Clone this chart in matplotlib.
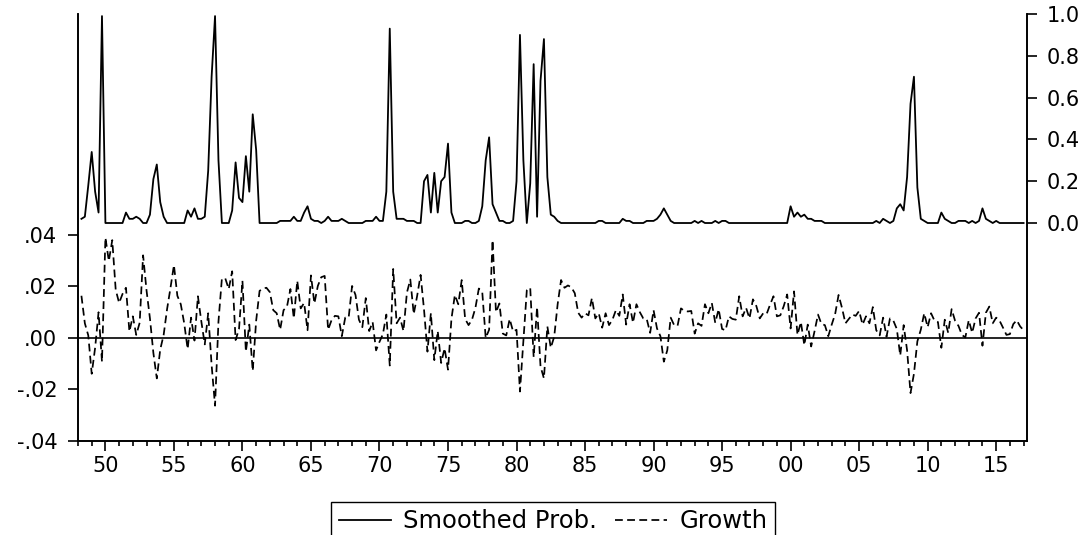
import matplotlib
matplotlib.use("Agg")
import matplotlib.pyplot as plt
import numpy as np
import pandas as pd

# quarterly sample 1948Q2 - 2017Q1
quarters = pd.period_range("1948Q2", "2017Q1", freq="Q")

# quarterly growth (left scale)
growth = [
    0.0164, 0.0057, 0.0010,                 # 1948 Q2-Q4
    -0.0139, -0.0038, 0.0100, -0.0092,      # 1949
    0.0390, 0.0299, 0.0380, 0.0188,         # 1950
    0.0136, 0.0171, 0.0195, 0.0025,         # 1951
    0.0084, 0.0012, 0.0059, 0.0321,         # 1952
    0.0185, 0.0076, -0.0058, -0.0157,       # 1953
    -0.0045, 0.0012, 0.0112, 0.0195,        # 1954
    0.0283, 0.0164, 0.0131, 0.0057,         # 1955
    -0.0043, 0.0079, -0.0010, 0.0162,       # 1956
    0.0064, -0.0025, 0.0096, -0.0105,       # 1957
    -0.0263, 0.0064, 0.0231, 0.0231,        # 1958
    0.0190, 0.0259, -0.0008, 0.0035,        # 1959
    0.0222, -0.0053, 0.0052, -0.0128,       # 1960
    0.0067, 0.0183, 0.0192, 0.0195,         # 1961
    0.0178, 0.0108, 0.0096, 0.0032,         # 1962
    0.0108, 0.0122, 0.0190, 0.0076,         # 1963
    0.0222, 0.0115, 0.0136, 0.0030,         # 1964
    0.0243, 0.0134, 0.0202, 0.0236,         # 1965
    0.0241, 0.0032, 0.0069, 0.0086,         # 1966
    0.0084, 0.0007, 0.0079, 0.0079,         # 1967
    0.0202, 0.0167, 0.0071, 0.0042,         # 1968
    0.0155, 0.0027, 0.0062, -0.0048,        # 1969
    -0.0015, 0.0015, 0.0091, -0.0107,       # 1970
    0.0268, 0.0057, 0.0079, 0.0027,         # 1971
    0.0176, 0.0227, 0.0093, 0.0164,         # 1972
    0.0245, 0.0110, -0.0053, 0.0096,        # 1973
    -0.0086, 0.0027, -0.0097, -0.0040,      # 1974
    -0.0123, 0.0074, 0.0167, 0.0131,        # 1975
    0.0225, 0.0074, 0.0050, 0.0071,         # 1976
    0.0117, 0.0192, 0.0178, 0.0000,         # 1977
    0.0032, 0.0380, 0.0100, 0.0134,         # 1978
    0.0017, 0.0010, 0.0074, 0.0025,         # 1979
    0.0032, -0.0208, -0.0013, 0.0185,       # 1980
    0.0195, -0.0074, 0.0120, -0.0110,       # 1981
    -0.0157, 0.0045, -0.0038, 0.0005,       # 1982
    0.0131, 0.0225, 0.0195, 0.0204,         # 1983
    0.0197, 0.0174, 0.0098, 0.0079,         # 1984
    0.0096, 0.0088, 0.0155, 0.0076,         # 1985
    0.0096, 0.0040, 0.0096, 0.0050,         # 1986
    0.0071, 0.0108, 0.0086, 0.0169,         # 1987
    0.0052, 0.0131, 0.0059, 0.0131,         # 1988
    0.0100, 0.0076, 0.0074, 0.0020,         # 1989
    0.0108, 0.0037, 0.0007, -0.0092,        # 1990
    -0.0048, 0.0079, 0.0050, 0.0047,        # 1991
    0.0115, 0.0105, 0.0103, 0.0105,         # 1992
    0.0017, 0.0057, 0.0047, 0.0131,         # 1993
    0.0096, 0.0136, 0.0059, 0.0112,         # 1994
    0.0035, 0.0030, 0.0084, 0.0074,         # 1995
    0.0071, 0.0162, 0.0084, 0.0117,         # 1996
    0.0076, 0.0150, 0.0124, 0.0076,         # 1997
    0.0096, 0.0093, 0.0129, 0.0162,         # 1998
    0.0084, 0.0088, 0.0124, 0.0169,         # 1999
    0.0037, 0.0181, 0.0012, 0.0062,         # 2000
    -0.0028, 0.0052, -0.0033, 0.0027,       # 2001
    0.0091, 0.0054, 0.0050, 0.0007,         # 2002
    0.0052, 0.0093, 0.0167, 0.0117,         # 2003
    0.0057, 0.0074, 0.0091, 0.0086,         # 2004
    0.0105, 0.0052, 0.0084, 0.0057,         # 2005
    0.0120, 0.0030, 0.0010, 0.0079,         # 2006
    0.0005, 0.0076, 0.0067, 0.0035,         # 2007
    -0.0068, 0.0050, -0.0048, -0.0214,      # 2008
    -0.0139, -0.0013, 0.0032, 0.0096,       # 2009
    0.0042, 0.0096, 0.0067, 0.0062,         # 2010
    -0.0038, 0.0071, 0.0020, 0.0112,        # 2011
    0.0067, 0.0047, 0.0012, 0.0002,         # 2012
    0.0069, 0.0020, 0.0076, 0.0098,         # 2013
    -0.0030, 0.0098, 0.0122, 0.0057,        # 2014
    0.0079, 0.0067, 0.0040, 0.0012,         # 2015
    0.0015, 0.0054, 0.0069, 0.0045,         # 2016
    0.0030,                                 # 2017 Q1
]

# smoothed probability (right scale)
prob = [
    0.02, 0.03, 0.18,         # 1948 Q2-Q4
    0.34, 0.15, 0.05, 0.99,   # 1949
    0.00, 0.00, 0.00, 0.00,   # 1950
    0.00, 0.00, 0.05, 0.02,   # 1951
    0.02, 0.03, 0.02, 0.00,   # 1952
    0.00, 0.04, 0.21, 0.28,   # 1953
    0.10, 0.03, 0.00, 0.00,   # 1954
    0.00, 0.00, 0.00, 0.00,   # 1955
    0.06, 0.03, 0.07, 0.02,   # 1956
    0.02, 0.03, 0.25, 0.70,   # 1957
    0.99, 0.30, 0.00, 0.00,   # 1958
    0.00, 0.06, 0.29, 0.12,   # 1959
    0.10, 0.32, 0.15, 0.52,   # 1960
    0.35, 0.00, 0.00, 0.00,   # 1961
    0.00, 0.00, 0.00, 0.01,   # 1962
    0.01, 0.01, 0.01, 0.03,   # 1963
    0.01, 0.01, 0.05, 0.08,   # 1964
    0.02, 0.01, 0.01, 0.00,   # 1965
    0.01, 0.03, 0.01, 0.01,   # 1966
    0.01, 0.02, 0.01, 0.00,   # 1967
    0.00, 0.00, 0.00, 0.00,   # 1968
    0.01, 0.01, 0.01, 0.03,   # 1969
    0.01, 0.01, 0.15, 0.93,   # 1970
    0.15, 0.02, 0.02, 0.02,   # 1971
    0.01, 0.01, 0.01, 0.00,   # 1972
    0.00, 0.20, 0.23, 0.05,   # 1973
    0.24, 0.05, 0.20, 0.22,   # 1974
    0.38, 0.05, 0.00, 0.00,   # 1975
    0.00, 0.01, 0.01, 0.00,   # 1976
    0.00, 0.01, 0.08, 0.30,   # 1977
    0.41, 0.09, 0.05, 0.01,   # 1978
    0.01, 0.00, 0.00, 0.01,   # 1979
    0.20, 0.90, 0.30, 0.00,   # 1980
    0.19, 0.76, 0.03, 0.68,   # 1981
    0.88, 0.22, 0.04, 0.03,   # 1982
    0.01, 0.00, 0.00, 0.00,   # 1983
    0.00, 0.00, 0.00, 0.00,   # 1984
    0.00, 0.00, 0.00, 0.00,   # 1985
    0.01, 0.01, 0.00, 0.00,   # 1986
    0.00, 0.00, 0.00, 0.02,   # 1987
    0.01, 0.01, 0.00, 0.00,   # 1988
    0.00, 0.00, 0.01, 0.01,   # 1989
    0.01, 0.02, 0.04, 0.07,   # 1990
    0.04, 0.01, 0.00, 0.00,   # 1991
    0.00, 0.00, 0.00, 0.00,   # 1992
    0.01, 0.00, 0.01, 0.00,   # 1993
    0.00, 0.00, 0.01, 0.00,   # 1994
    0.01, 0.01, 0.00, 0.00,   # 1995
    0.00, 0.00, 0.00, 0.00,   # 1996
    0.00, 0.00, 0.00, 0.00,   # 1997
    0.00, 0.00, 0.00, 0.00,   # 1998
    0.00, 0.00, 0.00, 0.00,   # 1999
    0.08, 0.03, 0.05, 0.03,   # 2000
    0.04, 0.02, 0.02, 0.01,   # 2001
    0.01, 0.01, 0.00, 0.00,   # 2002
    0.00, 0.00, 0.00, 0.00,   # 2003
    0.00, 0.00, 0.00, 0.00,   # 2004
    0.00, 0.00, 0.00, 0.00,   # 2005
    0.00, 0.01, 0.00, 0.02,   # 2006
    0.01, 0.00, 0.01, 0.07,   # 2007
    0.09, 0.06, 0.22, 0.57,   # 2008
    0.70, 0.17, 0.02, 0.01,   # 2009
    0.00, 0.00, 0.00, 0.00,   # 2010
    0.05, 0.02, 0.01, 0.00,   # 2011
    0.00, 0.01, 0.01, 0.01,   # 2012
    0.00, 0.01, 0.00, 0.01,   # 2013
    0.07, 0.02, 0.01, 0.00,   # 2014
    0.01, 0.00, 0.00, 0.00,   # 2015
    0.00, 0.00, 0.00, 0.00,   # 2016
    0.00,                     # 2017 Q1
]

year_ticks = list(range(1950, 2020, 5))
year_labels = ["%02d" % (y % 100) for y in year_ticks]
left_ticks = [-0.04, -0.02, 0.0, 0.02, 0.04]
left_labels = ["-.04", "-.02", ".00", ".02", ".04"]
right_ticks = [0.0, 0.2, 0.4, 0.6, 0.8, 1.0]
right_labels = ["0.0", "0.2", "0.4", "0.6", "0.8", "1.0"]

# decimal year at the start of each quarter
t = np.array([q.year + (q.quarter - 1) / 4.0 for q in quarters])

W, H = 1087, 535
fig = plt.figure(figsize=(W / 100, H / 100), dpi=100)
l, r, top, bot = 78, 1027, 14, 441
ax = fig.add_axes([l / W, 1 - bot / H, (r - l) / W, (bot - top) / H])
ax2 = ax.twinx()

dash = (0, (4.5, 2.5))
g_line, = ax.plot(t, growth, color="black", lw=1.25, ls=dash)
ax.axhline(0, color="black", lw=1.2)
p_line, = ax2.plot(t, prob, color="black", lw=1.3)

ax.set_xlim(1948.0, 2017.25)
ax.set_ylim(-0.04, 0.1258)
ax2.set_ylim(-1.043, 1.0)

ax.set_xticks(year_ticks)
ax.set_xticklabels(year_labels)
ax.set_xticks(np.arange(1948, 2018), minor=True)
ax.set_yticks(left_ticks)
ax.set_yticklabels(left_labels)
ax2.set_yticks(right_ticks)
ax2.set_yticklabels(right_labels)

for a in (ax, ax2):
    a.spines["top"].set_visible(False)
    for s in a.spines.values():
        s.set_linewidth(1.2)
ax.tick_params(axis="both", which="major", direction="out", length=7,
               width=1.2, labelsize=15, pad=4)
ax.tick_params(axis="y", pad=8)
ax.tick_params(axis="x", which="minor", direction="out", length=3.5, width=1.2)
ax2.tick_params(axis="y", direction="out", length=7, width=1.2,
                labelsize=15, pad=7)

leg = fig.legend([p_line, g_line], ["Smoothed Prob.", "Growth"],
                 loc="upper center", bbox_to_anchor=(553 / W, 1 - 502 / H),
                 ncol=2, fontsize=17.5, frameon=True, fancybox=False,
                 edgecolor="black", framealpha=1, handlelength=2.15,
                 handletextpad=0.5, columnspacing=0.75, borderpad=0.3,
                 borderaxespad=0)
leg.get_frame().set_linewidth(1.0)

fig.savefig("out.png", dpi=100)
